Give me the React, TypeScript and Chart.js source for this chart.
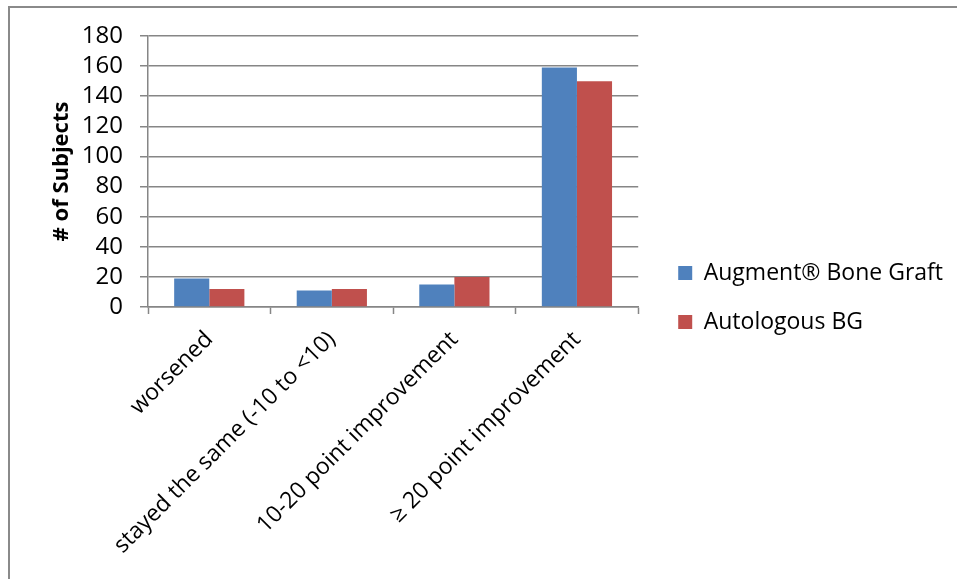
import React, { useEffect, useRef } from "react";
import { Chart, registerables } from "chart.js";

Chart.register(...registerables);

const categories = [
  "worsened",
  "stayed the same (-10 to <10)",
  "10-20 point improvement",
  "\u2265 20 point improvement",
];
const seriesNames = ["Augment\u00ae Bone Graft", "Autologous BG"];
const augmentValues = [19, 11, 15, 159];
const autologousValues = [12, 12, 20, 150];
const yMin = 0;
const yMax = 180;
const yStep = 20;
const yTitle = "# of Subjects";

const FONT = "'Open Sans', 'DejaVu Sans', sans-serif";
const GRID = "#868686";
const FS = 23;

// nudges the built-in legend a little further from the plot, as in the reference
const legendShift = {
  id: "legendShift",
  afterLayout(chart: any) {
    const lg = chart.legend;
    if (!lg) return;
    lg.left += 14;
    lg.right += 14;
    if (lg.legendHitBoxes) {
      lg.legendHitBoxes.forEach((b: any) => {
        b.left += 14;
      });
    }
  },
};

export default function App() {
  const ref = useRef<HTMLCanvasElement>(null);

  useEffect(() => {
    let chart: Chart | null = null;
    let cancelled = false;
    const build = () => {
      if (cancelled || !ref.current) return;
      chart = new Chart(ref.current, {
        type: "bar",
        data: {
          labels: categories,
          datasets: [
            {
              label: seriesNames[0],
              data: augmentValues,
              backgroundColor: "#4F81BD",
              categoryPercentage: 0.573,
              barPercentage: 1,
            },
            {
              label: seriesNames[1],
              data: autologousValues,
              backgroundColor: "#C0504D",
              categoryPercentage: 0.573,
              barPercentage: 1,
            },
          ],
        },
        plugins: [legendShift],
        options: {
          responsive: false,
          animation: false,
          layout: { padding: { top: 36, right: 18, bottom: 20, left: 0 } },
          plugins: {
            legend: {
              position: "right",
              maxWidth: 400,
              labels: {
                boxWidth: 14,
                boxHeight: 14,
                padding: 26,
                color: "#000",
                font: { family: FONT, size: FS },
              },
            },
            tooltip: { enabled: false },
          },
          scales: {
            x: {
              grid: {
                offset: true,
                drawOnChartArea: false,
                color: GRID,
                tickLength: 7,
                tickWidth: 1.5,
              },
              border: { color: GRID, width: 1.5 },
              ticks: {
                autoSkip: false,
                maxRotation: 45,
                minRotation: 45,
                color: "#000",
                padding: 12,
                font: { family: FONT, size: FS },
              },
              afterFit: (s: any) => {
                s.height = 252;
              },
            },
            y: {
              min: yMin,
              max: yMax,
              ticks: {
                stepSize: yStep,
                autoSkip: false,
                color: "#000",
                padding: 17,
                font: { family: FONT, size: 24 },
              },
              grid: { color: GRID, lineWidth: 1.5, tickLength: 8 },
              border: { color: GRID, width: 1.5 },
              title: {
                display: true,
                text: yTitle,
                color: "#000",
                font: { family: FONT, size: 22, weight: "bold" },
                padding: { top: 49, bottom: 0 },
              },
              afterFit: (s: any) => {
                s.width = 148;
              },
            },
          },
        },
      });
    };
    const fonts = (document as any).fonts;
    if (fonts && fonts.load) {
      Promise.all([
        fonts.load(`${FS}px "Open Sans"`),
        fonts.load(`24px "Open Sans"`),
        fonts.load(`bold 22px "Open Sans"`),
      ])
        .catch(() => {})
        .then(build);
    } else {
      build();
    }
    return () => {
      cancelled = true;
      if (chart) chart.destroy();
    };
  }, []);

  return (
    <div style={{ position: "absolute", left: 0, top: 0, width: 957, height: 579, background: "#fff", overflow: "hidden" }}>
      <div
        style={{
          position: "absolute",
          left: 8,
          top: 6,
          width: 1000,
          height: 700,
          borderLeft: "2px solid #8a8a8a",
          borderTop: "2px solid #8a8a8a",
        }}
      />
      <canvas ref={ref} width={957} height={579} style={{ position: "absolute", left: 0, top: 0 }} />
    </div>
  );
}
